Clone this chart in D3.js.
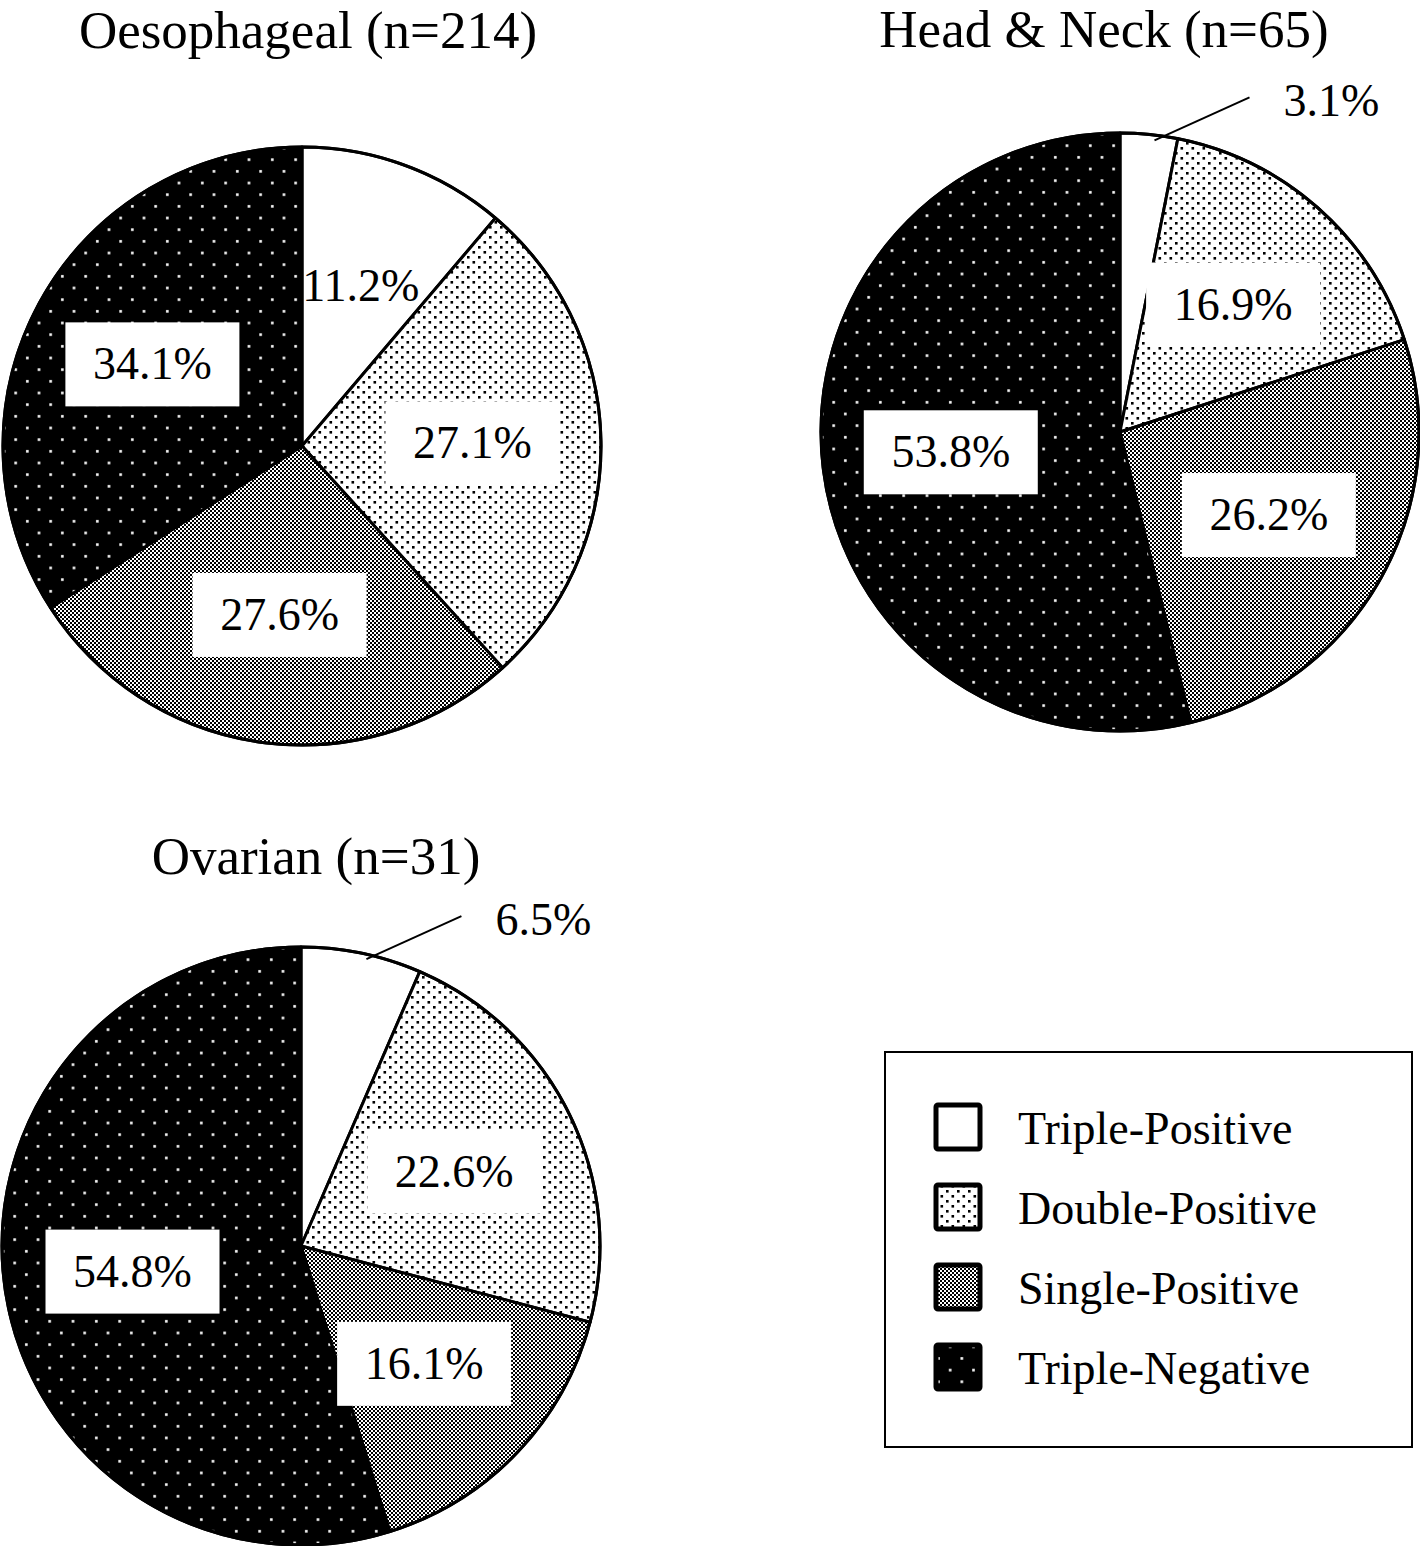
<!DOCTYPE html>
<html>
<head>
<meta charset="utf-8">
<script src="https://cdn.jsdelivr.net/npm/d3@7"></script>
<style>
  html, body { margin: 0; padding: 0; background: #fff; }
  svg { display: block; }
</style>
</head>
<body>
<svg id="chart" width="1420" height="1546"></svg>
<script>
// ---------- DATA ----------
const categories = ["Triple-Positive", "Double-Positive", "Single-Positive", "Triple-Negative"];
const panelTitles = ["Oesophageal (n=214)", "Head & Neck (n=65)", "Ovarian (n=31)"];
const oesophagealValues = [11.2, 27.1, 27.6, 34.1];
const headNeckValues = [3.1, 16.9, 26.2, 53.8];
const ovarianValues = [6.5, 22.6, 16.1, 54.8];
const valueSeries = [oesophagealValues, headNeckValues, ovarianValues];

// ---------- LAYOUT ----------
const W = 1420, H = 1546;
const R = 299;
const panels = [
  { cx: 302, cy: 446, titleX: 308, titleY: 48 },
  { cx: 1120, cy: 432, titleX: 1104, titleY: 47 },
  { cx: 301, cy: 1246, titleX: 316, titleY: 874 }
];
const fontFamily = "'Liberation Serif', 'Times New Roman', Times, serif";

const svg = d3.select("#chart");
svg.append("rect").attr("width", W).attr("height", H).attr("fill", "#fff");

// ---------- PATTERNS ----------
const defs = svg.append("defs");
// Double-positive: black dots on white
const pDP = defs.append("pattern").attr("id", "pat1").attr("patternUnits", "userSpaceOnUse")
  .attr("width", 11).attr("height", 10);
pDP.append("rect").attr("width", 11).attr("height", 10).attr("fill", "#fff");
pDP.append("rect").attr("x", 0).attr("y", 0).attr("width", 2.6).attr("height", 2.6).attr("fill", "#000");
pDP.append("rect").attr("x", 5.5).attr("y", 5).attr("width", 2.6).attr("height", 2.6).attr("fill", "#000");
// Single-positive: fine checkerboard
const pSP = defs.append("pattern").attr("id", "pat2").attr("patternUnits", "userSpaceOnUse")
  .attr("width", 4).attr("height", 4);
pSP.append("rect").attr("width", 4).attr("height", 4).attr("fill", "#fff");
pSP.append("rect").attr("x", 0).attr("y", 0).attr("width", 2).attr("height", 2).attr("fill", "#000");
pSP.append("rect").attr("x", 2).attr("y", 2).attr("width", 2).attr("height", 2).attr("fill", "#000");
// Triple-negative: white dots on black
const pTN = defs.append("pattern").attr("id", "pat3").attr("patternUnits", "userSpaceOnUse")
  .attr("width", 23.33).attr("height", 23.33);
pTN.append("rect").attr("width", 23.33).attr("height", 23.33).attr("fill", "#000");
pTN.append("rect").attr("x", 4).attr("y", 4).attr("width", 2.6).attr("height", 2.6).attr("fill", "#fff");
pTN.append("rect").attr("x", 15.67).attr("y", 15.67).attr("width", 2.6).attr("height", 2.6).attr("fill", "#fff");

const fills = ["#fff", "url(#pat1)", "url(#pat2)", "url(#pat3)"];
const color = d3.scaleOrdinal().domain(categories).range(fills);

// ---------- PIES ----------
const pie = d3.pie().sort(null).value(d => d.value);
const arc = d3.arc().innerRadius(0).outerRadius(R);
const labelArc = d3.arc().innerRadius(R * 1.14).outerRadius(0); // centroid at 0.57R
const fmt = v => d3.format(".1f")(v) + "%";

valueSeries.forEach((vals, pi) => {
  const p = panels[pi];
  const data = vals.map((v, i) => ({ cat: categories[i], value: v, idx: i }));
  const arcs = pie(data);

  svg.append("text")
    .attr("x", p.titleX).attr("y", p.titleY)
    .attr("text-anchor", "middle")
    .attr("font-family", fontFamily).attr("font-size", 53)
    .attr("fill", "#000")
    .text(panelTitles[pi]);

  const g = svg.append("g").attr("transform", `translate(${p.cx},${p.cy})`);

  g.selectAll("path.slice").data(arcs).join("path")
    .attr("class", "slice")
    .attr("d", arc)
    .attr("fill", d => color(d.data.cat))
    .attr("stroke", "#000").attr("stroke-width", 3)
    .attr("stroke-linejoin", "round");

  g.append("circle").attr("r", R).attr("fill", "none").attr("stroke", "#000").attr("stroke-width", 3);

  arcs.forEach(d => {
    const v = d.data.value;
    if (v < 8) {
      // outside label with leader line
      const mid = (d.startAngle + d.endAngle) / 2;
      const rs = R - 6;
      const sx = rs * Math.sin(mid) + 6, sy = -rs * Math.cos(mid);
      const ex = sx + 95, ey = sy - 43;
      g.append("line").attr("x1", sx).attr("y1", sy).attr("x2", ex).attr("y2", ey)
        .attr("stroke", "#000").attr("stroke-width", 2);
      g.append("text")
        .attr("x", ex + 34).attr("y", ey + 4 + 15)
        .attr("font-family", fontFamily).attr("font-size", 46)
        .attr("fill", "#000")
        .text(fmt(v));
    } else {
      const [lx, ly] = labelArc.centroid(d);
      if (d.data.idx !== 0) {
        g.append("rect")
          .attr("x", lx - 87).attr("y", ly - 42)
          .attr("width", 174).attr("height", 84)
          .attr("fill", "#fff");
      }
      g.append("text")
        .attr("x", lx).attr("y", ly + 15)
        .attr("text-anchor", "middle")
        .attr("font-family", fontFamily).attr("font-size", 46)
        .attr("fill", "#000")
        .text(fmt(v));
    }
  });
});

// ---------- LEGEND ----------
const legend = svg.append("g");
legend.append("rect")
  .attr("x", 885).attr("y", 1052).attr("width", 527).attr("height", 395)
  .attr("fill", "#fff").attr("stroke", "#000").attr("stroke-width", 2);

const ly = d3.scalePoint().domain(categories).range([1127, 1367]);
const items = legend.selectAll("g.item").data(categories).join("g").attr("class", "item");
items.append("rect")
  .attr("x", 936).attr("y", d => ly(d) - 22)
  .attr("width", 44).attr("height", 44)
  .attr("rx", 2)
  .attr("fill", d => color(d))
  .attr("stroke", "#000").attr("stroke-width", 5);
items.append("text")
  .attr("x", 1018).attr("y", d => ly(d) + 17)
  .attr("font-family", fontFamily).attr("font-size", 46)
  .attr("fill", "#000")
  .text(d => d);
</script>
</body>
</html>
